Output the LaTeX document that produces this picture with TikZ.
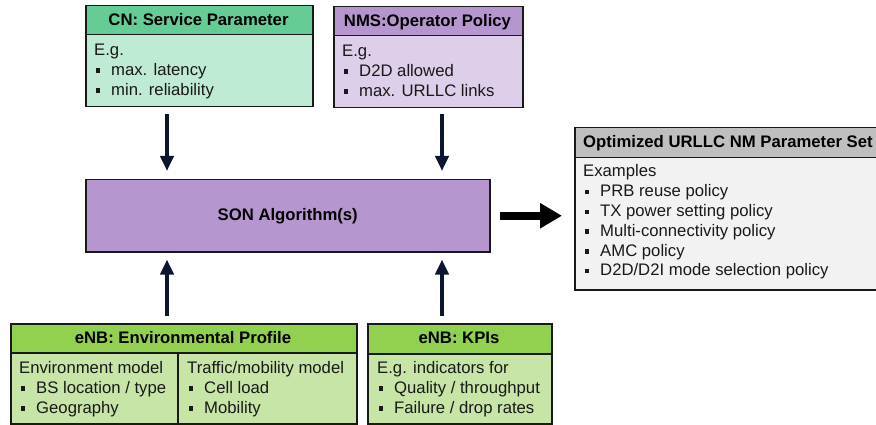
\documentclass[tikz,border=0pt]{standalone}
\usepackage{fontspec}
\setmainfont{Liberation Sans}
\usetikzlibrary{arrows.meta}
\definecolor{boxline}{RGB}{25,25,25}
\definecolor{arrowblue}{RGB}{12,22,48}
\definecolor{cnhead}{RGB}{102,204,150}
\definecolor{cnbody}{RGB}{191,234,211}
\definecolor{purhead}{RGB}{182,150,206}
\definecolor{purbody}{RGB}{221,206,233}
\definecolor{enbhead}{RGB}{146,208,80}
\definecolor{enbbody}{RGB}{199,229,166}
\definecolor{opthead}{RGB}{191,191,191}
\definecolor{optbody}{RGB}{242,242,242}
\newcommand\sqbul{\makebox[17pt][l]{\hspace{1.5pt}\rule[2.5pt]{4.4pt}{4.4pt}}}
\newcommand\bodylines[1]{\begin{tabular}[t]{@{}l@{}}#1\end{tabular}}
\begin{document}
\begin{tikzpicture}[x=1pt,y=-1pt,
  box/.style={draw=boxline, line width=1.5pt, inner sep=0pt, anchor=north west},
  hdr/.style={font=\fontsize{16.7}{19.5}\selectfont\bfseries, anchor=base, inner sep=0pt, text=black},
  txt/.style={font=\fontsize{16.7}{19.8}\selectfont, anchor=base west, inner sep=0pt, text=black!90},
  thinarrow/.style={draw=arrowblue, line width=4pt, -{Triangle[width=13pt,length=15pt]}},
  bigarrow/.style={draw=black, line width=8pt, -{Triangle[width=24pt,length=22pt]}}]
\useasboundingbox (0,0) rectangle (876,425);

% CN box
\node[box, fill=cnbody, minimum width=227pt, minimum height=72pt] (cnb) at (85,34) {};
\node[box, fill=cnhead, minimum width=227pt, minimum height=29pt] (cnh) at (85,5) {};
\node[hdr] (cnt) at (198.5,25.5) {CN: Service Parameter};
\node[txt] (cnl) at (94,55.5) {\bodylines{E.g.\\ \sqbul max. latency\\ \sqbul min. reliability}};

% NMS box
\node[box, fill=purbody, minimum width=189pt, minimum height=72pt] (nmb) at (333,35) {};
\node[box, fill=purhead, minimum width=189pt, minimum height=29pt] (nmh) at (333,6) {};
\node[hdr] (nmt) at (427.5,26.5) {NMS:Operator Policy};
\node[txt] (nml) at (342,56.5) {\bodylines{E.g.\\ \sqbul D2D allowed\\ \sqbul max. URLLC links}};

% SON box
\node[box, fill=purhead, minimum width=404pt, minimum height=72pt] (son) at (85,179) {};
\node[hdr, anchor=center] (sont) at (son.center) {SON Algorithm(s)};

% Optimized parameter set
\node[box, fill=optbody, minimum width=330pt, minimum height=132pt] (ob) at (574,157) {};
\node[box, fill=opthead, minimum width=330pt, minimum height=30pt] (oh) at (574,127) {};
\node[hdr, anchor=base west] (oht) at (583,148) {Optimized URLLC NM Parameter Set};
\node[txt] (obl) at (583,177) {\bodylines{Examples\\ \sqbul PRB reuse policy\\ \sqbul TX power setting policy\\ \sqbul Multi-connectivity policy\\ \sqbul AMC policy\\ \sqbul D2D/D2I mode selection policy}};

% eNB environmental profile
\node[box, fill=enbbody, minimum width=167pt, minimum height=71pt] (envb1) at (10,352) {};
\node[box, fill=enbbody, minimum width=179pt, minimum height=71pt] (envb2) at (177,352) {};
\node[box, fill=enbhead, minimum width=346pt, minimum height=29pt] (envh) at (10,323) {};
\node[hdr] (envt) at (183,343.5) {eNB: Environmental Profile};
\node[txt] (env1) at (19,373.5) {\bodylines{Environment model\\ \sqbul BS location / type\\ \sqbul Geography}};
\node[txt] (env2) at (187,373.5) {\bodylines{Traffic/mobility model\\ \sqbul Cell load\\ \sqbul Mobility}};

% eNB KPIs
\node[box, fill=enbbody, minimum width=184pt, minimum height=70pt] (kpb) at (367,353) {};
\node[box, fill=enbhead, minimum width=184pt, minimum height=30pt] (kph) at (367,323) {};
\node[hdr] (kpt) at (459,343.5) {eNB: KPIs};
\node[txt] (kpl) at (377,373.5) {\bodylines{E.g. indicators for\\ \sqbul Quality / throughput\\ \sqbul Failure / drop rates}};

% arrows
\coordinate (xa) at (167,0);
\coordinate (xb) at (442,0);
\draw[thinarrow, shorten <=7pt, shorten >=8pt] (xa |- cnb.south) -- (xa |- son.north);
\draw[thinarrow, shorten <=6pt, shorten >=8pt] (xb |- nmb.south) -- (xb |- son.north);
\draw[thinarrow, shorten <=7pt, shorten >=7pt] (xa |- envh.north) -- (xa |- son.south);
\draw[thinarrow, shorten <=7pt, shorten >=7pt] (xb |- kph.north) -- (xb |- son.south);
\draw[bigarrow, shorten <=9pt, shorten >=12pt] (son.east) -- (son.east -| ob.west);
\end{tikzpicture}
\end{document}
